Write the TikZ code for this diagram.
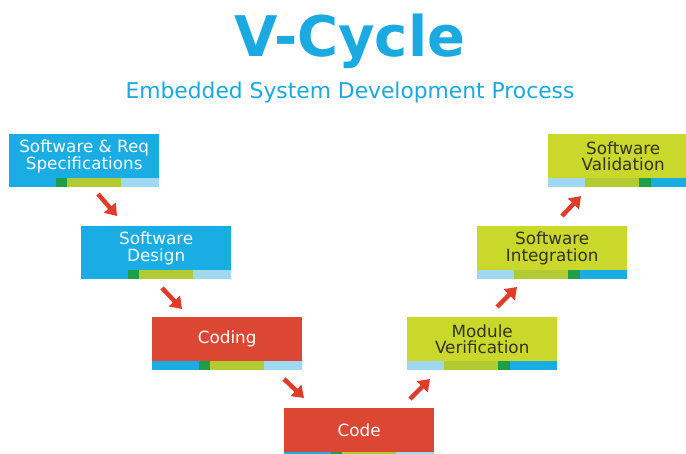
\documentclass[tikz,border=0pt]{standalone}
\usepackage{fontspec}
\setmainfont{DejaVu Sans}
\usetikzlibrary{arrows.meta}
\definecolor{vblue}{HTML}{1AADE4}
\definecolor{vtitle}{HTML}{1AA9E0}
\definecolor{vred}{HTML}{DB4733}
\definecolor{vlime}{HTML}{C9D82B}
\definecolor{vdgreen}{HTML}{1E9E4A}
\definecolor{vygreen}{HTML}{B3CB33}
\definecolor{vlblue}{HTML}{9FD8F1}
\definecolor{varrow}{HTML}{E03C2B}
\definecolor{vdark}{HTML}{33331F}
\newcommand\vstripeL[1]{%
  \fill[vblue] (#1.south west) rectangle ++(47,9);
  \fill[vdgreen] ([xshift=47pt]#1.south west) rectangle ++(11,9);
  \fill[vygreen] ([xshift=58pt]#1.south west) rectangle ++(54,9);
  \fill[vlblue] ([xshift=112pt]#1.south west) rectangle ++(38,9);}
\newcommand\vstripeR[1]{%
  \fill[vlblue] (#1.south west) rectangle ++(37,9);
  \fill[vygreen] ([xshift=37pt]#1.south west) rectangle ++(54,9);
  \fill[vdgreen] ([xshift=91pt]#1.south west) rectangle ++(12,9);
  \fill[vblue] ([xshift=103pt]#1.south west) rectangle ++(47,9);}
\begin{document}
\begin{tikzpicture}[x=1pt,y=-1pt,
  box/.style={minimum width=150pt, minimum height=44pt, inner sep=0pt, align=center,
    font=\fontsize{16.8}{16.5}\selectfont, anchor=north west},
  bluebox/.style={box, fill=vblue, text=white},
  redbox/.style={box, fill=vred, text=white},
  limebox/.style={box, fill=vlime, text=vdark},
  arr/.style={draw=varrow, line width=4.5pt, -{Triangle[length=11pt,width=15pt]}}]
\useasboundingbox (0,0) rectangle (686,454);
\clip (0,0) rectangle (686,454);
\fill[white] (0,0) rectangle (686,454);

\node[font=\fontsize{56}{60}\selectfont\bfseries, text=vtitle, anchor=base] (title) at (350,57) {V-Cycle};
\node[font=\fontsize{21.8}{24}\selectfont, text=vtitle, anchor=base] (sub) at (350,99) {Embedded System Development Process};

\node[bluebox] (b1) at (9,134) {Software \& Req\\Specifications};
\node[bluebox] (b2) at (81,226) {Software\\Design};
\node[redbox] (b3) at (152,317) {Coding};
\node[redbox] (b4) at (284,408) {Code};
\node[limebox] (b5) at (407,317) {Module\\Verification};
\node[limebox] (b6) at (477,226) {Software\\Integration};
\node[limebox] (b7) at (548,134) {Software\\Validation};

\vstripeL{b1}
\vstripeL{b2}
\vstripeL{b3}
\vstripeL{b4}
\vstripeR{b5}
\vstripeR{b6}
\vstripeR{b7}

\coordinate (a1s) at (98,194);  \coordinate (a1e) at (117,216);
\coordinate (a2s) at (162,288); \coordinate (a2e) at (182,309);
\coordinate (a3s) at (284,379); \coordinate (a3e) at (304,398);
\coordinate (a4s) at (410,399); \coordinate (a4e) at (430,379);
\coordinate (a5s) at (497,307); \coordinate (a5e) at (517,287);
\coordinate (a6s) at (562,216); \coordinate (a6e) at (581,196);
\draw[arr] (a1s) -- (a1e);
\draw[arr] (a2s) -- (a2e);
\draw[arr] (a3s) -- (a3e);
\draw[arr] (a4s) -- (a4e);
\draw[arr] (a5s) -- (a5e);
\draw[arr] (a6s) -- (a6e);
\end{tikzpicture}
\end{document}
